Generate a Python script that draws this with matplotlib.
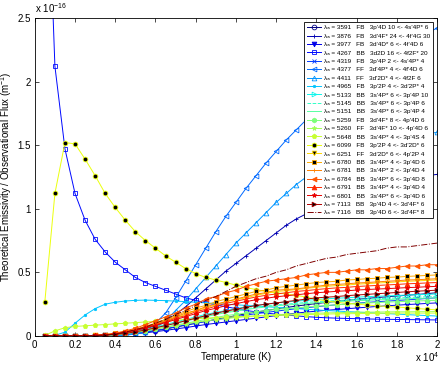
import numpy as np
import matplotlib
matplotlib.use('Agg')
import matplotlib.pyplot as plt

plt.rcParams['font.family'] = ['Liberation Sans', 'DejaVu Sans']
plt.rcParams['mathtext.fontset'] = 'custom'
plt.rcParams['mathtext.rm'] = 'Liberation Sans'
plt.rcParams['mathtext.it'] = 'Liberation Sans:italic'

# Temperature grid, in units of 10^4 K
temperature = [0.05, 0.10, 0.15, 0.20, 0.25, 0.30, 0.35, 0.40, 0.45, 0.50,
               0.55, 0.60, 0.65, 0.70, 0.75, 0.80, 0.85, 0.90, 0.95, 1.00,
               1.05, 1.10, 1.15, 1.20, 1.25, 1.30, 1.35, 1.40, 1.45, 1.50,
               1.55, 1.60, 1.65, 1.70, 1.75, 1.80, 1.85, 1.90, 1.95, 2.00]

# line ids, in legend order
wavelengths = [3591, 3876, 3977, 4267, 4319, 4377, 4411, 4965, 5133, 5145, 5151, 5259,
               5260, 5648, 6099, 6251, 6780, 6781, 6784, 6791, 6801, 7113, 7116]
kinds = ['FB', 'FB', 'FB', 'BB', 'FB', 'FF', 'FF', 'FB', 'BB', 'BB', 'BB', 'FB',
         'FF', 'BB', 'FB', 'FF', 'BB', 'BB', 'BB', 'BB', 'BB', 'BB', 'BB']
transitions = ["3p'4D 10 <- 4s'4P* 6", "3d'4F* 24 <- 4f'4G 30", "3d'4D* 6 <- 4f'4D 6",
               "3d2D 16 <- 4f2F* 20", "3p'4P 2 <- 4s'4P* 4", "3d'4P* 4 <- 4f'4D 6",
               "3d'2D* 4 <- 4f2F 6", "3p'2P 4 <- 3d'2P* 4", "3s'4P* 6 <- 3p'4P 10",
               "3s'4P* 6 <- 3p'4P 6", "3s'4P* 6 <- 3p'4P 4", "3d'4F* 8 <- 4p'4D 6",
               "3d'4F* 10 <- 4p'4D 6", "3s'4P* 4 <- 3p'4S 4", "3p'2P 4 <- 3d'2D* 6",
               "3d'2D* 6 <- 4p'2P 4", "3s'4P* 4 <- 3p'4D 6", "3s'4P* 2 <- 3p'4D 4",
               "3s'4P* 6 <- 3p'4D 8", "3s'4P* 4 <- 3p'4D 4", "3s'4P* 6 <- 3p'4D 6",
               "3p'4D 4 <- 3d'4F* 6", "3p'4D 6 <- 3d'4F* 8"]

# emissivity / flux ratios, in units of 1e-16 m^-1
r3591 = [0, 0, 0, 0, 0, 0.001, 0.003, 0.006, 0.012, 0.02, 0.03, 0.042, 0.055, 0.07, 0.085, 0.1,
         0.115, 0.13, 0.145, 0.16, 0.175, 0.188, 0.2, 0.212, 0.224, 0.235, 0.245, 0.255, 0.264,
         0.272, 0.28, 0.288, 0.295, 0.302, 0.308, 0.314, 0.32, 0.326, 0.333, 0.34]
r3876 = [0, 0, 0, 0, 0, 0, 0.002, 0.008, 0.02, 0.035, 0.055, 0.08, 0.12, 0.17, 0.23, 0.3,
         0.37, 0.44, 0.51, 0.57, 0.63, 0.69, 0.75, 0.81, 0.87, 0.92, 0.96, 1.0, 1.04, 1.07,
         1.1, 1.13, 1.15, 1.17, 1.19, 1.21, 1.23, 1.24, 1.26, 1.27]
r3977 = [0, 0, 0, 0, 0, 0.002, 0.004, 0.008, 0.012, 0.018, 0.025, 0.034, 0.044, 0.055, 0.066,
         0.078, 0.09, 0.1, 0.11, 0.12, 0.13, 0.14, 0.15, 0.16, 0.17, 0.18, 0.188, 0.195, 0.202,
         0.208, 0.214, 0.22, 0.226, 0.232, 0.237, 0.242, 0.247, 0.251, 0.256, 0.26]
r4267 = [4.3, 2.12, 1.47, 1.12, 0.91, 0.76, 0.66, 0.58, 0.52, 0.46, 0.42, 0.39, 0.36, 0.33,
         0.30, 0.28, 0.26, 0.245, 0.23, 0.215, 0.2, 0.19, 0.18, 0.172, 0.165, 0.158, 0.152,
         0.147, 0.143, 0.14, 0.138, 0.136, 0.134, 0.132, 0.131, 0.13, 0.129, 0.128, 0.127, 0.126]
r4319 = [0, 0, 0, 0, 0, 0.002, 0.004, 0.008, 0.014, 0.022, 0.032, 0.044, 0.057, 0.072, 0.087,
         0.1, 0.115, 0.128, 0.14, 0.152, 0.164, 0.175, 0.185, 0.195, 0.205, 0.214, 0.222, 0.23,
         0.238, 0.245, 0.252, 0.258, 0.264, 0.269, 0.274, 0.279, 0.284, 0.289, 0.295, 0.3]
r4377 = [0, 0, 0, 0, 0, 0, 0, 0, 0.005, 0.02, 0.05, 0.1, 0.18, 0.3, 0.43, 0.56, 0.69, 0.82,
         0.94, 1.05, 1.16, 1.26, 1.36, 1.45, 1.54, 1.62, 1.7, 1.77, 1.84, 1.91, 1.97, 2.03,
         2.09, 2.14, 2.19, 2.24, 2.29, 2.34, 2.38, 2.42]
r4411 = [0, 0, 0, 0, 0, 0, 0, 0.002, 0.006, 0.015, 0.03, 0.06, 0.12, 0.2, 0.28, 0.37, 0.46,
         0.55, 0.64, 0.73, 0.81, 0.89, 0.97, 1.05, 1.12, 1.19, 1.25, 1.31, 1.36, 1.41, 1.45,
         1.48, 1.51, 1.53, 1.55, 1.56, 1.57, 1.58, 1.59, 1.6]
r4965 = [0, 0.005, 0.03, 0.1, 0.165, 0.215, 0.25, 0.265, 0.275, 0.28, 0.282, 0.28, 0.278,
         0.274, 0.27, 0.265, 0.26, 0.255, 0.25, 0.245, 0.24, 0.235, 0.23, 0.225, 0.22, 0.215,
         0.21, 0.205, 0.2, 0.196, 0.192, 0.188, 0.184, 0.18, 0.176, 0.172, 0.168, 0.164, 0.16, 0.157]
r5133 = [0, 0, 0, 0, 0, 0.003, 0.007, 0.013, 0.023, 0.036, 0.053, 0.07, 0.09, 0.11, 0.13,
         0.15, 0.17, 0.185, 0.2, 0.215, 0.23, 0.24, 0.25, 0.26, 0.267, 0.274, 0.28, 0.287,
         0.292, 0.297, 0.3, 0.305, 0.309, 0.312, 0.315, 0.318, 0.322, 0.324, 0.327, 0.33]
r5145 = [0, 0, 0, 0, 0, 0.003, 0.006, 0.012, 0.022, 0.034, 0.05, 0.065, 0.084, 0.1, 0.12,
         0.14, 0.158, 0.174, 0.19, 0.2, 0.214, 0.226, 0.236, 0.245, 0.251, 0.257, 0.264, 0.27,
         0.274, 0.279, 0.282, 0.287, 0.29, 0.293, 0.296, 0.299, 0.302, 0.305, 0.308, 0.31]
r5151 = [0, 0, 0, 0, 0, 0.003, 0.006, 0.012, 0.021, 0.033, 0.048, 0.063, 0.081, 0.1, 0.117,
         0.135, 0.153, 0.168, 0.183, 0.195, 0.207, 0.219, 0.228, 0.237, 0.243, 0.249, 0.255,
         0.261, 0.265, 0.27, 0.273, 0.278, 0.28, 0.284, 0.286, 0.29, 0.292, 0.295, 0.297, 0.3]
r5259 = [0, 0, 0, 0, 0, 0.003, 0.005, 0.01, 0.018, 0.028, 0.04, 0.054, 0.07, 0.086, 0.1,
         0.115, 0.13, 0.145, 0.16, 0.17, 0.18, 0.19, 0.2, 0.21, 0.215, 0.22, 0.228, 0.234,
         0.24, 0.245, 0.25, 0.255, 0.259, 0.263, 0.266, 0.269, 0.272, 0.275, 0.278, 0.28]
r5260 = [0, 0, 0, 0, 0, 0.003, 0.006, 0.012, 0.02, 0.03, 0.042, 0.055, 0.068, 0.082, 0.095,
         0.107, 0.118, 0.128, 0.137, 0.145, 0.152, 0.158, 0.163, 0.167, 0.171, 0.174, 0.177,
         0.179, 0.181, 0.183, 0.185, 0.186, 0.187, 0.188, 0.189, 0.19, 0.19, 0.191, 0.191, 0.192]
r5648 = [0.005, 0.04, 0.065, 0.075, 0.08, 0.085, 0.09, 0.095, 0.1, 0.105, 0.11, 0.115, 0.12,
         0.125, 0.13, 0.135, 0.14, 0.145, 0.148, 0.151, 0.154, 0.157, 0.16, 0.162, 0.164, 0.166,
         0.168, 0.17, 0.172, 0.174, 0.175, 0.176, 0.177, 0.178, 0.179, 0.18, 0.18, 0.18, 0.18, 0.18]
r6099 = [0.27, 1.12, 1.52, 1.51, 1.39, 1.26, 1.12, 1.01, 0.91, 0.82, 0.75, 0.69, 0.63, 0.58,
         0.53, 0.49, 0.46, 0.44, 0.42, 0.4, 0.38, 0.365, 0.35, 0.34, 0.33, 0.32, 0.305, 0.29,
         0.275, 0.265, 0.257, 0.25, 0.244, 0.237, 0.232, 0.228, 0.222, 0.216, 0.21, 0.205]
r6251 = [0, 0, 0, 0, 0, 0.004, 0.009, 0.018, 0.03, 0.048, 0.07, 0.092, 0.12, 0.145, 0.17,
         0.2, 0.22, 0.245, 0.27, 0.285, 0.3, 0.32, 0.335, 0.35, 0.356, 0.365, 0.374, 0.383,
         0.39, 0.396, 0.4, 0.407, 0.411, 0.416, 0.42, 0.425, 0.43, 0.433, 0.437, 0.44]
r6780 = [0, 0, 0, 0, 0, 0.005, 0.01, 0.02, 0.034, 0.053, 0.077, 0.1, 0.13, 0.16, 0.19, 0.22,
         0.24, 0.27, 0.29, 0.31, 0.33, 0.35, 0.36, 0.38, 0.39, 0.4, 0.41, 0.42, 0.425, 0.43,
         0.44, 0.444, 0.45, 0.454, 0.46, 0.463, 0.468, 0.472, 0.476, 0.48]
r6781 = [0, 0, 0, 0, 0, 0.005, 0.009, 0.018, 0.03, 0.05, 0.07, 0.09, 0.12, 0.15, 0.18, 0.2,
         0.23, 0.25, 0.27, 0.29, 0.31, 0.33, 0.34, 0.36, 0.365, 0.37, 0.38, 0.39, 0.4, 0.405,
         0.41, 0.416, 0.42, 0.425, 0.43, 0.434, 0.44, 0.442, 0.446, 0.45]
r6784 = [0, 0, 0, 0, 0, 0.006, 0.011, 0.022, 0.04, 0.06, 0.09, 0.12, 0.15, 0.18, 0.22, 0.25,
         0.29, 0.31, 0.34, 0.36, 0.39, 0.41, 0.43, 0.44, 0.45, 0.46, 0.48, 0.49, 0.5, 0.5,
         0.51, 0.52, 0.52, 0.53, 0.53, 0.54, 0.55, 0.55, 0.56, 0.56]
r6791 = [0, 0, 0, 0, 0, 0.004, 0.008, 0.017, 0.03, 0.046, 0.067, 0.088, 0.11, 0.14, 0.16,
         0.19, 0.21, 0.235, 0.256, 0.273, 0.29, 0.307, 0.32, 0.33, 0.34, 0.35, 0.357, 0.365,
         0.372, 0.378, 0.382, 0.389, 0.393, 0.397, 0.401, 0.405, 0.41, 0.413, 0.417, 0.42]
r6801 = [0, 0, 0, 0, 0, 0.004, 0.008, 0.016, 0.027, 0.043, 0.062, 0.082, 0.105, 0.129, 0.152,
         0.176, 0.2, 0.218, 0.238, 0.254, 0.27, 0.285, 0.296, 0.308, 0.316, 0.324, 0.332, 0.34,
         0.345, 0.351, 0.355, 0.361, 0.365, 0.369, 0.372, 0.376, 0.38, 0.383, 0.387, 0.39]
r7113 = [0, 0, 0, 0, 0, 0.003, 0.006, 0.012, 0.02, 0.033, 0.047, 0.064, 0.082, 0.1, 0.12,
         0.14, 0.16, 0.18, 0.195, 0.21, 0.225, 0.24, 0.25, 0.26, 0.27, 0.28, 0.29, 0.3, 0.305,
         0.31, 0.317, 0.322, 0.327, 0.332, 0.337, 0.342, 0.347, 0.352, 0.356, 0.36]
r7116 = [0, 0, 0, 0, 0, 0.004, 0.007, 0.015, 0.03, 0.05, 0.07, 0.1, 0.13, 0.17, 0.2, 0.24,
         0.28, 0.31, 0.35, 0.39, 0.42, 0.45, 0.47, 0.5, 0.52, 0.55, 0.57, 0.59, 0.61, 0.62,
         0.64, 0.65, 0.66, 0.67, 0.69, 0.7, 0.7, 0.71, 0.72, 0.73]

ratios = [r3591, r3876, r3977, r4267, r4319, r4377, r4411, r4965, r5133, r5145, r5151, r5259,
          r5260, r5648, r6099, r6251, r6780, r6781, r6784, r6791, r6801, r7113, r7116]

# marker / line style per series (matlab-ish)
styles = [('o', '-', 'none'), ('+', '-', None), ('v', '-', None), ('s', '-', 'none'),
          ('x', '-', None), ('<', '-', 'none'), ('^', '-', 'none'), ('.', '-', None),
          ('>', '-', 'none'), ('', '--', None), ('', '-', None), ('h', '-', None),
          ('*', '-', None), ('p', '-', None), ('o', '-', 'k'), ('v', '-', 'k'),
          ('s', '-', 'k'), ('+', '-', None), ('<', '-', None), ('^', '-', None),
          ('*', '-', None), ('>', '-', 'k'), ('', '-.', None)]

colors = plt.cm.jet(np.linspace(0, 1, len(wavelengths)))

fig = plt.figure(figsize=(4.46, 3.65), dpi=100)
ax = fig.add_axes([0.078, 0.0795, 0.902, 0.8715])

for i in range(len(wavelengths)):
    marker, ls, mfc = styles[i]
    face = colors[i] if mfc is None else mfc
    label = "\u03bb\u2090 = %d   %s   %s" % (wavelengths[i], kinds[i], transitions[i])
    ax.plot(temperature, ratios[i], color=colors[i], linestyle=ls, linewidth=0.7,
            marker=marker if marker else None, markersize=3.4, markerfacecolor=face,
            markeredgecolor=colors[i], markeredgewidth=0.6, label=label)

ax.set_xlim(0, 2)
ax.set_ylim(0, 2.5)
ax.set_xticks([0, 0.2, 0.4, 0.6, 0.8, 1, 1.2, 1.4, 1.6, 1.8, 2])
ax.set_xticklabels(['0', '0.2', '0.4', '0.6', '0.8', '1', '1.2', '1.4', '1.6', '1.8', '2'])
ax.set_yticks([0, 0.5, 1, 1.5, 2, 2.5])
ax.set_yticklabels(['0', '0.5', '1', '1.5', '2', '2.5'])
ax.tick_params(direction='in', top=True, right=True, labelsize=7, length=3, width=0.5, pad=3)
for sp in ax.spines.values():
    sp.set_linewidth(0.6)

ax.set_xlabel('Temperature (K)', fontsize=7, labelpad=1)
ax.set_ylabel(r'Theoretical Emissivity / Observational Flux (m$^{-1}$)', fontsize=7, labelpad=2)
fig.text(0.078, 0.958, r'x 10$^{-16}$', fontsize=7, ha='left', va='bottom')
fig.text(0.985, 0.022, r'x 10$^{4}$', fontsize=7, ha='right', va='center')

leg = ax.legend(loc='upper right', fontsize=4.6, frameon=True, fancybox=False,
                edgecolor='black', framealpha=1, handlelength=2.2, handletextpad=0.5,
                labelspacing=0.46, borderpad=0.4, borderaxespad=0.7)
leg.get_frame().set_linewidth(0.6)

fig.savefig('out.png', dpi=100)
